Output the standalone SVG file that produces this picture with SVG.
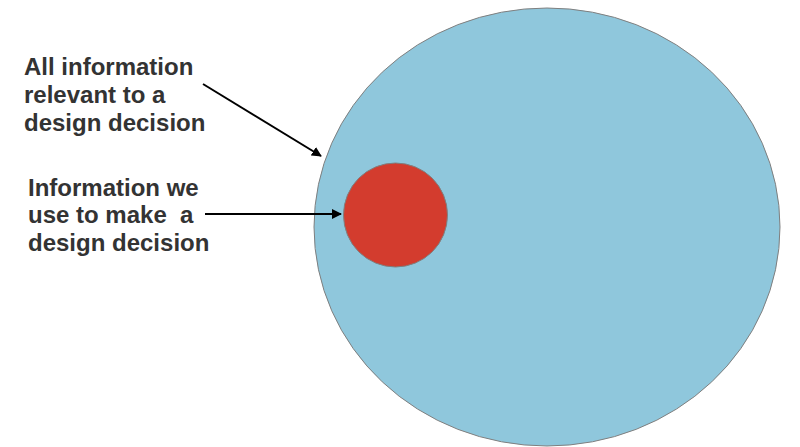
<svg xmlns="http://www.w3.org/2000/svg" width="800" height="447" viewBox="0 0 800 447">
<style>
.lbl{font-family:"Liberation Sans",Arial,sans-serif;font-weight:bold;font-size:24px;fill:#333333;white-space:pre}
.arr{stroke:#000;stroke-width:2;fill:none;marker-end:url(#ah)}
</style>
<defs>
<marker id="ah" markerWidth="10" markerHeight="10" refX="9" refY="5" orient="auto" markerUnits="userSpaceOnUse">
<path d="M0,0 L10,5 L0,10 Z" fill="#000"/>
</marker>
</defs>
<rect width="800" height="447" fill="#fff"/>
<g id="all-info">
<ellipse cx="547" cy="227" rx="233" ry="219" fill="#8fc7dc" stroke="#7f7f7f" stroke-width="1"/>
</g>
<g id="used-info">
<circle cx="395.5" cy="215" r="52" fill="#d33c2e" stroke="#7f7f7f" stroke-width="1"/>
</g>
<g id="label-all">
<text class="lbl" x="24" y="75">All information</text>
<text class="lbl" x="24" y="103">relevant to a</text>
<text class="lbl" x="24" y="131">design decision</text>
</g>
<g id="label-used">
<text class="lbl" x="28" y="196">Information we</text>
<text class="lbl" x="28" y="223" xml:space="preserve">use to make  a</text>
<text class="lbl" x="28" y="251">design decision</text>
</g>
<g id="connectors">
<line class="arr" x1="203" y1="84" x2="321" y2="156"/>
<line class="arr" x1="205" y1="214" x2="341" y2="214"/>
</g>
</svg>
